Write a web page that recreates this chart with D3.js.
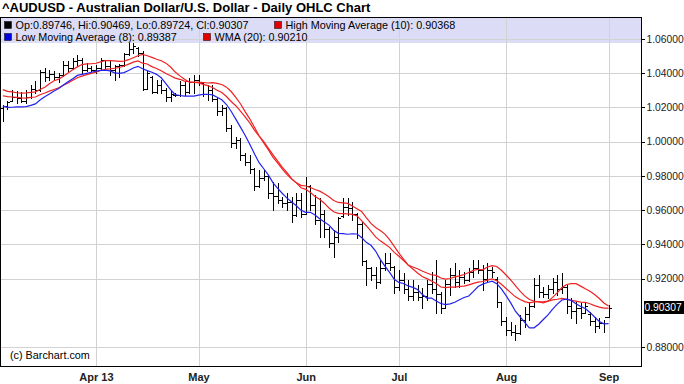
<!DOCTYPE html>
<html><head><meta charset="utf-8">
<script src="https://cdn.jsdelivr.net/npm/d3@7"></script>
<style>body{margin:0;background:#fff}svg{display:block}</style>
</head><body>
<svg id="c" width="684" height="384"></svg>
<script>
// ---------- DATA ----------
const title = "^AUDUSD - Australian Dollar/U.S. Dollar - Daily OHLC Chart";
const firstDay = "2013-03-04";
const opens = [1.0195,1.0208,1.0240,1.0260,1.0255,1.0240,1.0260,1.0310,1.0300,1.0405,1.0380,1.0395,1.0375,1.0390,1.0450,1.0430,1.0470,1.0480,1.0420,1.0430,
1.0420,1.0430,1.0475,1.0440,1.0420,1.0440,1.0450,1.0510,1.0540,1.0545,1.0520,1.0310,1.0375,1.0290,1.0330,1.0300,1.0260,1.0275,1.0270,1.0330,1.0290,1.0350,
1.0360,1.0345,1.0280,1.0300,1.0250,1.0180,1.0195,1.0080,0.9990,1.0010,0.9920,0.9880,0.9840,0.9740,0.9790,0.9800,0.9700,0.9680,0.9660,0.9640,0.9650,0.9570,0.9660,
0.9580,0.9740,0.9630,0.9540,0.9580,0.9490,0.9410,0.9440,0.9565,0.9620,0.9610,0.9580,0.9520,0.9300,0.9260,0.9220,0.9180,0.9260,0.9290,0.9270,
0.9150,0.9190,0.9140,0.9100,0.9120,0.9090,0.9100,0.9170,0.9140,0.9110,0.9030,0.9170,0.9220,0.9180,0.9210,0.9190,0.9240,0.9260,0.9250,0.9200,0.9250,0.9200,0.9060,
0.8950,0.8900,0.8890,0.8880,0.8960,0.8990,0.9040,0.9160,0.9120,0.9110,0.9140,0.9180,0.9140,0.9150,0.9040,0.9010,0.9030,0.9000,0.8995,0.8950,0.8920,0.8940,
0.89746];
const highs = [1.0216,1.0236,1.0304,1.0296,1.0290,1.0300,1.0333,1.0353,1.0421,1.0431,1.0421,1.0411,1.0400,1.0470,1.0470,1.0489,1.0505,1.0489,1.0460,1.0440,
1.0450,1.0489,1.0480,1.0470,1.0450,1.0455,1.0520,1.0577,1.0577,1.0555,1.0528,1.0411,1.0382,1.0362,1.0362,1.0314,1.0294,1.0284,1.0353,1.0353,1.0372,1.0391,
1.0391,1.0345,1.0333,1.0333,1.0255,1.0214,1.0200,1.0097,1.0029,1.0020,0.9932,0.9922,0.9844,0.9834,0.9834,0.9805,0.9766,0.9757,0.9678,0.9698,0.9678,0.9698,0.9698,
0.9795,0.9747,0.9690,0.9671,0.9600,0.9503,0.9484,0.9561,0.9669,0.9669,0.9649,0.9581,0.9532,0.9308,0.9265,0.9269,0.9308,0.9347,0.9347,0.9275,
0.9250,0.9230,0.9191,0.9191,0.9162,0.9143,0.9191,0.9240,0.9308,0.9123,0.9190,0.9262,0.9290,0.9250,0.9240,0.9262,0.9308,0.9308,0.9279,0.9289,0.9269,0.9211,0.9065,
0.8977,0.8948,0.8928,0.8987,0.9035,0.9065,0.9201,0.9221,0.9152,0.9162,0.9201,0.9221,0.9231,0.9165,0.9084,0.9065,0.9055,0.9065,0.9006,0.8977,0.8967,0.8958,
0.90469];
const lows = [1.0119,1.0193,1.0236,1.0226,1.0230,1.0225,1.0255,1.0284,1.0295,1.0353,1.0362,1.0362,1.0350,1.0385,1.0411,1.0425,1.0450,1.0401,1.0411,1.0411,
1.0401,1.0421,1.0420,1.0391,1.0362,1.0380,1.0445,1.0505,1.0520,1.0500,1.0304,1.0305,1.0284,1.0284,1.0284,1.0236,1.0236,1.0265,1.0265,1.0275,1.0284,1.0284,
1.0333,1.0265,1.0245,1.0236,1.0158,1.0156,1.0060,0.9971,0.9961,0.9893,0.9864,0.9815,0.9717,0.9737,0.9776,0.9669,0.9601,0.9640,0.9620,0.9601,0.9532,0.9565,0.9561,
0.9575,0.9601,0.9520,0.9445,0.9445,0.9386,0.9328,0.9415,0.9561,0.9571,0.9542,0.9435,0.9279,0.9162,0.9191,0.9143,0.9175,0.9250,0.9250,0.9114,
0.9133,0.9114,0.9075,0.9075,0.9075,0.9026,0.9075,0.9114,0.8997,0.8997,0.9025,0.9104,0.9150,0.9150,0.9175,0.9185,0.9210,0.9230,0.9133,0.9182,0.9211,0.9036,0.8928,
0.8870,0.8870,0.8841,0.8875,0.8918,0.8958,0.9035,0.9094,0.9094,0.9085,0.9114,0.9104,0.9114,0.9000,0.8967,0.8938,0.8967,0.8997,0.8928,0.8889,0.8909,0.8889,
0.89724];
const closes = [1.0208,1.0230,1.0260,1.0255,1.0240,1.0262,1.0310,1.0300,1.0405,1.0380,1.0395,1.0375,1.0390,1.0450,1.0430,1.0470,1.0480,1.0420,1.0430,1.0420,
1.0430,1.0475,1.0440,1.0420,1.0440,1.0450,1.0510,1.0540,1.0560,1.0520,1.0310,1.0400,1.0290,1.0330,1.0300,1.0260,1.0280,1.0270,1.0330,1.0290,1.0350,1.0360,
1.0345,1.0280,1.0300,1.0250,1.0180,1.0195,1.0080,0.9990,1.0010,0.9920,0.9880,0.9840,0.9740,0.9790,0.9800,0.9700,0.9680,0.9660,0.9640,0.9650,0.9570,0.9660,0.9580,
0.9740,0.9630,0.9540,0.9580,0.9490,0.9410,0.9440,0.9555,0.9620,0.9610,0.9580,0.9520,0.9300,0.9260,0.9220,0.9180,0.9260,0.9290,0.9270,0.9150,
0.9190,0.9140,0.9100,0.9120,0.9090,0.9100,0.9170,0.9140,0.9110,0.9030,0.9170,0.9220,0.9180,0.9210,0.9190,0.9240,0.9260,0.9250,0.9200,0.9250,0.9240,0.9060,0.8950,
0.8900,0.8890,0.8880,0.8960,0.8990,0.9040,0.9160,0.9120,0.9110,0.9140,0.9180,0.9140,0.9150,0.9040,0.9010,0.9030,0.9000,0.9040,0.8950,0.8920,0.8940,0.8975,
0.90307];
// bars before the visible window (used only to seed the moving averages)
const priorHighs = [1.0340,1.0330,1.0350,1.0310,1.0290,1.0300,1.0320,1.0290,1.0295];
const priorLows = [1.0250,1.0230,1.0210,1.0225,1.0215,1.0200,1.0210];
const priorCloses = [1.0330,1.0320,1.0300,1.0310,1.0300,1.0310,1.0320,1.0310,1.0330,1.0340,1.0300,1.0270,1.0280,1.0260,1.0250,1.0270,1.0250,1.0240,1.0220];
const yTicks = [1.06,1.04,1.02,1.00,0.98,0.96,0.94,0.92,0.88];
const monthLabels = ["Apr 13","May","Jun","Jul","Aug","Sep"];
const lastPrice = 0.90307;
const legendRow1 = [{color:"#000000", text:"Op:0.89746, Hi:0.90469, Lo:0.89724, Cl:0.90307"},
                    {color:"#e00000", text:"High Moving Average (10): 0.90368"}];
const legendRow2 = [{color:"#0000e0", text:"Low Moving Average (8): 0.89387"},
                    {color:"#e00000", text:"WMA (20): 0.90210"}];
const credit = "(c) Barchart.com";

// ---------- CHART ----------
const FONT = "'Liberation Sans', Arial, sans-serif";
const svg = d3.select("#c");
const P = {l:0, t:17, r:642, b:366};
const n = closes.length;

const dates = [];
{ let d = new Date(firstDay + "T12:00:00");
  while (dates.length < n) { const w = d.getDay(); if (w !== 0 && w !== 6) dates.push(new Date(d)); d.setDate(d.getDate() + 1); } }
const monthStarts = [];
for (let i = 1; i < n; i++) if (dates[i].getMonth() !== dates[i-1].getMonth()) monthStarts.push(i);

const x = d3.scaleLinear().domain([-0.6, 137.17]).range([P.l, P.r]);
const y = d3.scaleLinear().domain([0.86888, 1.07286]).range([P.b, P.t]);
const px = i => Math.round(x(i)) + 0.5;
const py = v => Math.round(y(v)) + 0.5;

// moving averages
const allH = priorHighs.concat(highs), allL = priorLows.concat(lows), allC = priorCloses.concat(closes);
const sma = (arr, off, len) => d3.range(n).map(i => d3.mean(arr.slice(i + off - len + 1, i + off + 1)));
const hiMA = sma(allH, priorHighs.length, 10);
const loMA = sma(allL, priorLows.length, 8);
const wma = d3.range(n).map(i => { let s = 0, w = 0; for (let k = 0; k < 20; k++) { const wt = 20 - k; s += wt * allC[i + priorCloses.length - k]; w += wt; } return s / w; });

svg.append("rect").attr("width", 684).attr("height", 384).attr("fill", "#fff");
svg.append("defs").append("clipPath").attr("id", "clip").append("rect")
  .attr("x", P.l).attr("y", P.t).attr("width", P.r - P.l).attr("height", P.b - P.t);

// legend band
svg.append("rect").attr("x", P.l).attr("y", P.t).attr("width", P.r - P.l).attr("height", 26).attr("fill", "#dcdcf6");

// grid
const g = svg.append("g").attr("shape-rendering", "crispEdges");
g.selectAll(".hg").data(yTicks).join("line").attr("x1", P.l).attr("x2", P.r)
  .attr("y1", d => py(d)).attr("y2", d => py(d)).attr("stroke", "#d2d2d2");
g.selectAll(".vg").data(monthStarts).join("line").attr("y1", P.t).attr("y2", P.b)
  .attr("x1", d => px(d)).attr("x2", d => px(d)).attr("stroke", "#d2d2d2");

// OHLC bars
const bars = svg.append("g").attr("clip-path", "url(#clip)").attr("shape-rendering", "crispEdges").attr("stroke", "#000");
const idx = d3.range(n);
bars.selectAll(".hl").data(idx).join("line").attr("x1", px).attr("x2", px)
  .attr("y1", i => Math.round(y(highs[i]))).attr("y2", i => Math.round(y(lows[i])) + 1);
bars.selectAll(".op").data(idx).join("line").attr("x1", i => px(i) - 2.5).attr("x2", i => px(i))
  .attr("y1", i => py(opens[i])).attr("y2", i => py(opens[i]));
bars.selectAll(".cl").data(idx).join("line").attr("x1", i => px(i)).attr("x2", i => px(i) + 2.5)
  .attr("y1", i => py(closes[i])).attr("y2", i => py(closes[i]));

// MA lines
const line = arr => d3.line().x(i => x(i)).y(i => y(arr[i]))(idx);
const lg = svg.append("g").attr("clip-path", "url(#clip)").attr("fill", "none").attr("stroke-width", 1.2);
lg.append("path").attr("d", line(wma)).attr("stroke", "#ee2222");
lg.append("path").attr("d", line(hiMA)).attr("stroke", "#ee2222");
lg.append("path").attr("d", line(loMA)).attr("stroke", "#2222ee");

// legend text
function legendRow(items, xs, yc) {
  items.forEach((it, k) => {
    svg.append("rect").attr("x", xs[k]).attr("y", yc - 3.5).attr("width", 7).attr("height", 7)
      .attr("fill", it.color).attr("stroke", "#000").attr("stroke-width", 0.5);
    svg.append("text").attr("x", xs[k] + 11).attr("y", yc).attr("dy", "0.35em")
      .attr("font-family", FONT).attr("font-size", 10.8).attr("fill", "#000").text(it.text);
  });
}
legendRow(legendRow1, [4.5, 274.5], 25);
legendRow(legendRow2, [4.5, 203.5], 37);

// border
svg.append("rect").attr("x", P.l + 0.5).attr("y", P.t + 0.5).attr("width", P.r - P.l - 1).attr("height", P.b - P.t)
  .attr("fill", "none").attr("stroke", "#000").attr("shape-rendering", "crispEdges");

// right axis
const AX_FS = 10.3;
const ya = svg.append("g").attr("transform", `translate(${P.r},0)`)
  .call(d3.axisRight(y).tickValues(yTicks).tickFormat(d3.format(".5f")).tickSize(3).tickPadding(1.5));
ya.select(".domain").remove();
ya.selectAll("line").attr("stroke", "#000").attr("shape-rendering", "crispEdges");
ya.selectAll("text").attr("font-family", FONT).attr("font-size", AX_FS).attr("fill", "#222");

// last price marker
svg.append("rect").attr("x", P.r + 2).attr("y", y(lastPrice) - 6.5).attr("width", 684 - P.r - 2).attr("height", 13).attr("fill", "#000");
svg.append("text").attr("x", P.r + 2.5).attr("y", y(lastPrice)).attr("dy", "0.35em")
  .attr("font-family", FONT).attr("font-size", AX_FS).attr("fill", "#fff").text(d3.format(".5f")(lastPrice));

// bottom axis
const xa = svg.append("g").attr("transform", `translate(0,${P.b})`)
  .call(d3.axisBottom(x).tickValues(monthStarts).tickFormat((d, k) => monthLabels[k]).tickSize(0).tickPadding(7));
xa.select(".domain").remove();
xa.selectAll("text").attr("font-family", FONT).attr("font-size", 11).attr("font-weight", "bold").attr("fill", "#222");

// title & credit
svg.append("text").attr("x", 2).attr("y", 12).attr("font-family", FONT).attr("font-size", 13)
  .attr("font-weight", "bold").attr("fill", "#000").text(title);
svg.append("text").attr("x", 10).attr("y", 359).attr("font-family", FONT).attr("font-size", 10.8)
  .attr("fill", "#000").text(credit);
</script>
</body></html>
